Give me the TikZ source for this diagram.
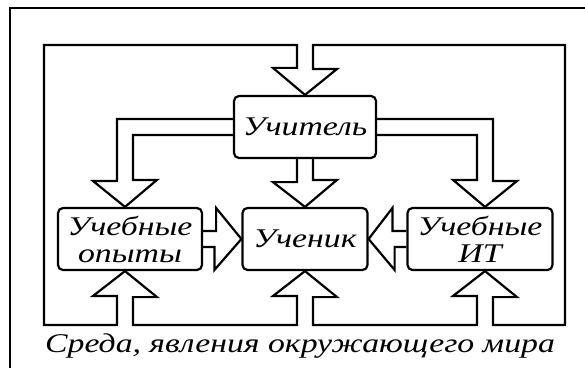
\documentclass[tikz,border=0pt]{standalone}
\usepackage{fontspec}
\setmainfont{Liberation Serif}[FakeStretch=1.25]
\tikzstyle{block} = [rectangle, rounded corners=5pt, minimum height=62pt, inner sep=0pt, text centered, align=center, draw=black, line width=2.2pt, font=\itshape\fontsize{27}{27}\selectfont]
\tikzstyle{label} = [font=\itshape\fontsize{27}{27}\selectfont, inner sep=0pt]
\tikzstyle{pipe} = [line width=2.2pt, line join=miter]
\tikzstyle{frame} = [line width=2.8pt]

\begin{document}
\begin{tikzpicture}[x=1pt, y=1pt]
        \clip (0,0) rectangle (585,367);
        % Nodes
        \node (teacher) [block, minimum width=142pt] at (305,240) {Учитель};
        \node (learner) [block, minimum width=125pt] at (305,128) {Ученик};
        \node (exper) [block, minimum width=144pt] at (130,128) {Учебные\\опыты};
        \node (ict) [block, minimum width=145pt] at (480,128) {Учебные\\ИТ};
        \node (env) [label, anchor=base] at (300,15) {Среда, явления окружающего мира};

        % Frame
        \draw [frame] (10,-20) rectangle (600,359);

        % Environment loop
        \draw [pipe] (297,322) -| (44,42) -| (117,71) -- ++(-24,0) -- ([xshift=-5pt]exper.south) -- ++(32,-26) -- ++(-24,0)
            |- (297,42) -- ++(0,29) -- ++(-24,0) -- (learner.south) -- ++(32,-26) -- ++(-24,0)
            |- (477,42) -- ++(0,29) -- ++(-24,0) -- ([xshift=5pt]ict.south) -- ++(32,-26) -- ++(-24,0)
            |- (565,42) -- (565,322) -| (313,298) -- ++(24,0) -- (teacher.north) -- ++(-32,27) -- ++(24,0) -- cycle;

        % Arrows
        \draw [pipe] ([yshift=8pt]teacher.west) -| (117,186) -- ++(-24,0) -- ([xshift=-5pt]exper.north) -- ++(32,27) -- ++(-24,0) |- ([yshift=-8pt]teacher.west);
        \draw [pipe] ([yshift=8pt]teacher.east) -| (493,186) -- ++(24,0) -- ([xshift=5pt]ict.north) -- ++(-32,27) -- ++(24,0) |- ([yshift=-8pt]teacher.east);
        \draw [pipe] ([xshift=-8pt]teacher.south) -- ++(0,-23) -- ++(-24,0) -- (learner.north) -- ++(32,27) -- ++(-24,0) -- ([xshift=8pt]teacher.south);
        \draw [pipe] ([yshift=8pt]exper.east) -- ++(13,0) -- ++(0,23) -- (learner.west) -- ++(-27,-31) -- ++(0,23) -- ([yshift=-8pt]exper.east);
        \draw [pipe] ([yshift=8pt]ict.west) -- ++(-14,0) -- ++(0,23) -- (learner.east) -- ++(26,-31) -- ++(0,23) -- ([yshift=-8pt]ict.west);
\end{tikzpicture}
\end{document}
